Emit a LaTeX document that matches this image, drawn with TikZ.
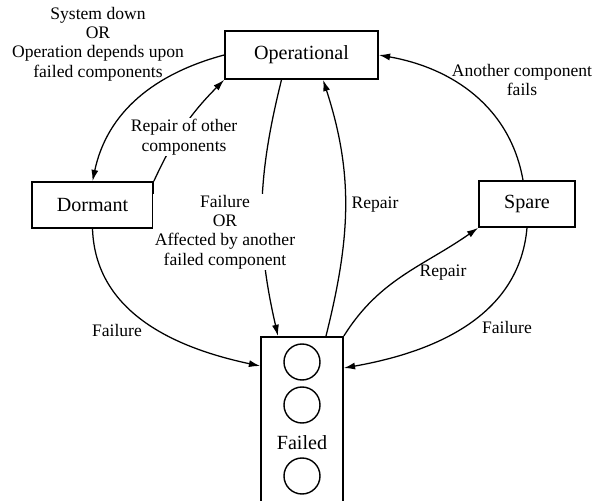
\documentclass[tikz,border=0pt]{standalone}
\usepackage{fontspec}
\setmainfont{Liberation Serif}
\usetikzlibrary{arrows.meta, positioning}
\tikzset{
  state/.style={rectangle, draw, line width=1.2pt, inner sep=0pt,
                font=\fontsize{14.3}{16}\selectfont},
  slot/.style={circle, draw, line width=1pt, minimum size=0.9cm, inner sep=0pt},
  lbl/.style={font=\fontsize{12.5}{13.8}\selectfont, align=center, inner sep=1pt},
  cut/.style={lbl, fill=white},
  arr/.style={-{Latex[length=8pt,width=5pt]}, line width=0.9pt},
}
\begin{document}
\begin{tikzpicture}[x=0.025cm, y=0.025cm]
  \useasboundingbox (0,0) rectangle (600,501);

  % states
  \node[state, minimum width=3.825cm, minimum height=1.2cm]  (oper)  at (301.5,446) {Operational};
  \node[state, minimum width=3.025cm, minimum height=1.15cm] (dorm)  at (92.5,296)  {Dormant};
  \node[state, minimum width=2.4cm, minimum height=1.15cm]   (spare) at (527,297)   {Spare};
  \node[state, minimum width=2.05cm, minimum height=4.375cm, anchor=north] (failed) at (302,165) {};
  \node[slot] (c1) at (302,139) {};
  \node[slot] (c2) at (302,96)  {};
  \node[slot] (c3) at (302,25)  {};
  \node[font=\fontsize{14.3}{16}\selectfont] (failtxt) at (302,58) {Failed};

  % transitions
  \draw[arr] (oper.west) to[out=195, in=78] (dorm.north);
  \draw[arr] (dorm.north east) to[bend left=10] (oper.south west);
  \draw[arr] ([xshift=-0.5cm]oper.south) to[out=-104, in=103] ([xshift=-0.6cm]failed.north);
  \draw[arr] ([xshift=0.6cm]failed.north) to[out=76, in=-72] ([xshift=0.54cm]oper.south);
  \draw[arr] (failed.north east) to[out=58, in=-145] (spare.south west);
  \draw[arr] (spare.south) to[out=-95, in=10] ([yshift=-0.8cm]failed.north east);
  \draw[arr] ([xshift=-0.1cm]spare.north) to[out=100, in=-10] (oper.east);
  \draw[arr] (dorm.south) to[out=-88, in=168] ([yshift=-0.75cm]failed.north west);

  % labels
  \node[lbl] (sysdown) at (98,457)  {System down\\OR\\Operation depends upon\\failed components};
  \node[cut] (repoth)  at (184,364) {Repair of other\\components};
  \node[cut] (failor)  at (225,269) {Failure\\OR\\Affected by another\\failed component};
  \node[lbl] (rep1)    at (375,296) {Repair};
  \node[lbl] (rep2)    at (443,228) {Repair};
  \node[lbl] (fail1)   at (507,174) {Failure};
  \node[lbl] (another) at (522,421) {Another component\\fails};
  \node[lbl] (fail2)   at (117,171) {Failure};
\end{tikzpicture}
\end{document}
